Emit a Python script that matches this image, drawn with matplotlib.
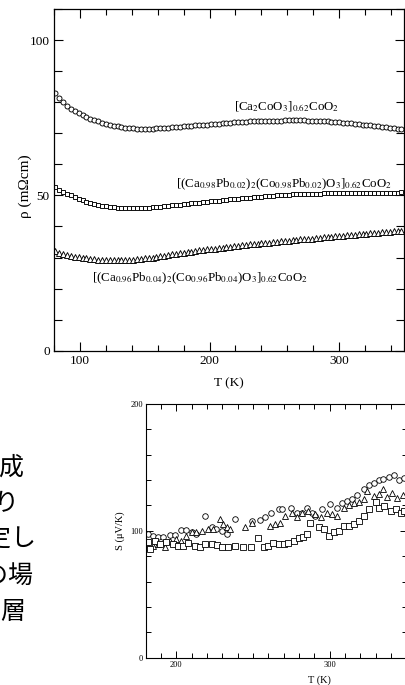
import matplotlib
matplotlib.use("Agg")
import matplotlib.pyplot as plt

plt.rcParams['font.family'] = ['Liberation Serif', 'DejaVu Serif']
plt.rcParams['mathtext.fontset'] = 'stix'

# ---------------- data: resistivity (top) ----------------
T_rho = [81, 84, 87, 90, 93, 96, 99, 102, 105, 108, 111, 114, 117, 120, 123, 126, 129, 132,
         135, 138, 141, 144, 147, 150, 153, 156, 159, 162, 165, 168, 171, 174, 177, 180,
         183, 186, 189, 192, 195, 198, 201, 204, 207, 210, 213, 216, 219, 222, 225, 228,
         231, 234, 237, 240, 243, 246, 249, 252, 255, 258, 261, 264, 267, 270, 273, 276,
         279, 282, 285, 288, 291, 294, 297, 300, 303, 306, 309, 312, 315, 318, 321, 324,
         327, 330, 333, 336, 339, 342, 345, 348]
rho_pure = [83.0, 81.2, 80.0, 78.8, 77.9, 77.1, 76.4, 75.8, 75.2, 74.7, 74.2, 73.8, 73.4, 73.0,
            72.7, 72.4, 72.2, 72.0, 71.8, 71.7, 71.6, 71.5, 71.5, 71.5, 71.5, 71.5, 71.6, 71.6,
            71.7, 71.8, 71.9, 72.0, 72.1, 72.2, 72.3, 72.4, 72.5, 72.6, 72.7, 72.8, 72.9, 73.0,
            73.1, 73.2, 73.3, 73.4, 73.5, 73.6, 73.6, 73.7, 73.8, 73.8, 73.9, 73.9, 74.0, 74.0,
            74.1, 74.1, 74.1, 74.2, 74.2, 74.2, 74.2, 74.2, 74.2, 74.1, 74.1, 74.0, 74.0, 73.9,
            73.8, 73.7, 73.6, 73.5, 73.4, 73.3, 73.2, 73.0, 72.9, 72.8, 72.6, 72.5, 72.3, 72.2,
            72.0, 71.9, 71.7, 71.6, 71.5, 71.3]
rho_pb02 = [52.6, 51.8, 51.2, 50.5, 50.0, 49.4, 48.9, 48.4, 48.0, 47.6, 47.3, 47.0, 46.7, 46.5,
            46.3, 46.1, 46.0, 45.9, 45.8, 45.8, 45.8, 45.8, 45.9, 45.9, 46.0, 46.1, 46.2, 46.4,
            46.5, 46.6, 46.8, 46.9, 47.0, 47.2, 47.3, 47.4, 47.6, 47.7, 47.8, 48.0, 48.1, 48.2,
            48.3, 48.5, 48.6, 48.7, 48.8, 48.9, 49.0, 49.1, 49.3, 49.4, 49.5, 49.6, 49.7, 49.8,
            49.9, 50.0, 50.1, 50.2, 50.2, 50.3, 50.4, 50.4, 50.5, 50.5, 50.6, 50.6, 50.6, 50.7,
            50.7, 50.7, 50.7, 50.7, 50.7, 50.7, 50.7, 50.7, 50.7, 50.7, 50.7, 50.7, 50.8, 50.8,
            50.8, 50.8, 50.9, 50.9, 50.9, 51.0]
rho_pb04 = [32.2, 31.6, 31.2, 30.9, 30.6, 30.3, 30.1, 29.9, 29.7, 29.5, 29.4, 29.3, 29.2, 29.1,
            29.1, 29.1, 29.1, 29.1, 29.2, 29.2, 29.3, 29.4, 29.5, 29.7, 29.8, 30.0, 30.2, 30.4,
            30.6, 30.8, 31.0, 31.2, 31.4, 31.6, 31.8, 31.9, 32.1, 32.3, 32.4, 32.6, 32.7, 32.9,
            33.0, 33.2, 33.3, 33.5, 33.6, 33.8, 33.9, 34.1, 34.2, 34.3, 34.5, 34.6, 34.7, 34.8,
            34.9, 35.1, 35.2, 35.3, 35.4, 35.6, 35.7, 35.8, 35.9, 36.0, 36.1, 36.3, 36.4, 36.5,
            36.6, 36.7, 36.8, 36.9, 37.0, 37.2, 37.3, 37.4, 37.5, 37.6, 37.7, 37.8, 37.9, 38.0,
            38.1, 38.2, 38.3, 38.4, 38.5, 38.6]

label_pure = r"[Ca$_2$CoO$_3$]$_{0.62}$CoO$_2$"
label_pb02 = r"[(Ca$_{0.98}$Pb$_{0.02}$)$_2$(Co$_{0.98}$Pb$_{0.02}$)O$_3$]$_{0.62}$CoO$_2$"
label_pb04 = r"[(Ca$_{0.96}$Pb$_{0.04}$)$_2$(Co$_{0.96}$Pb$_{0.04}$)O$_3$]$_{0.62}$CoO$_2$"

# ---------------- data: Seebeck (bottom) ----------------
T_S_circ = [181.4, 184.7, 188, 191, 195.6, 199, 203, 206.5, 210, 213, 218.5, 223, 226, 229.5,
            232.7, 238, 249, 254.6, 257.9, 262, 266.6, 268.8, 275, 278.6, 282, 285, 288.4,
            290.6, 295, 300.4, 304.8, 308, 311, 314.6, 318, 322, 325.5, 329, 332, 335, 338.6,
            341.9, 345, 348.5]
S_circ = [97.4, 96.0, 94.8, 94.8, 96.6, 96.6, 101.0, 100.8, 98.7, 97.4, 111.3, 102.6, 101.3,
          100.0, 97.4, 109.0, 108.0, 108.6, 110.5, 114.4, 117.0, 117.0, 118.3, 114.4, 114.4,
          118.3, 114.4, 111.8, 117.0, 121.0, 118.3, 122.0, 123.5, 124.9, 128.0, 133.0, 135.9,
          138.0, 140.0, 141.0, 142.7, 143.7, 140.0, 141.9]
T_S_tri = [181.4, 184.7, 188, 192.4, 195.6, 200, 203.3, 206.5, 210, 213, 216.4, 220.7, 224,
           228.4, 230.5, 232.7, 235, 244.8, 249, 261, 264.4, 267.7, 271, 275.3, 278.6, 282,
           286, 290.6, 294, 298, 301.5, 304.8, 309, 312.4, 315.7, 319, 322.3, 324.5, 328.8,
           332, 334.8, 337.5, 340.8, 344, 347.4]
S_tri = [86.9, 88.2, 89.5, 86.9, 92.1, 93.5, 92.1, 96.0, 98.7, 99.2, 100.0, 101.3, 101.8,
         109.0, 105.0, 102.6, 101.3, 102.6, 106.5, 104.0, 105.0, 106.5, 111.8, 114.4, 110.5,
         114.4, 115.7, 113.0, 110.5, 114.4, 113.0, 111.8, 118.3, 120.0, 121.7, 122.8, 124.9,
         131.4, 127.5, 128.8, 132.7, 127.0, 130.0, 126.0, 128.0]
T_S_sq = [181.4, 182.5, 185.8, 189, 193.4, 197.8, 201, 204.4, 207.6, 212, 215.3, 218.5, 223,
          226.2, 229.5, 233.4, 238.2, 243.7, 248.7, 253, 256.8, 260, 263.3, 266.6, 270, 273,
          276.4, 279.7, 282.3, 285, 287.3, 292.8, 296, 299.3, 302.6, 305.9, 309.2, 312.4,
          315.7, 319, 322.3, 325.5, 330, 332, 335.4, 339.7, 343, 346.3, 348.5]
S_sq = [91.4, 85.6, 92.1, 89.5, 90.8, 89.5, 88.2, 87.7, 90.3, 88.2, 86.9, 89.5, 89.5, 88.7,
        86.9, 86.9, 87.7, 86.9, 86.9, 94.0, 86.9, 88.2, 90.3, 89.5, 89.5, 90.3, 92.1, 94.0,
        94.8, 97.4, 106.0, 102.6, 101.3, 96.0, 99.2, 100.0, 103.4, 103.9, 105.2, 107.9, 111.8,
        117.0, 122.3, 118.3, 119.6, 115.7, 117.0, 114.4, 115.7]

jp_lines = ["構成", "より", "測定し", "この場", "層"]

# ---------------- figure ----------------
W, H = 405, 685
fig = plt.figure(figsize=(W / 100, H / 100), dpi=100)

def px_axes(x0, y0, x1, y1):
    return fig.add_axes([x0 / W, 1 - y1 / H, (x1 - x0) / W, (y1 - y0) / H])

# top axes (pixel box 54..404 x 9..350.7)
ax = px_axes(54, 9, 404, 350.7)
mk = dict(linestyle='none', markerfacecolor='white', markeredgecolor='black',
          markeredgewidth=0.65)
ax.plot(T_rho, rho_pure, marker='o', markersize=3.6, **mk)
ax.plot(T_rho, rho_pb02, marker='s', markersize=3.4, **mk)
ax.plot(T_rho, rho_pb04, marker='^', markersize=3.7, **mk)
ax.set_xlim(80, 350)
ax.set_ylim(0, 110)
ax.set_xticks([100, 200, 300])
ax.set_xticks(range(80, 351, 20), minor=True)
ax.set_yticks([0, 50, 100])
ax.set_yticks(range(0, 111, 10), minor=True)
ax.tick_params(which='both', direction='in', top=True, right=True, width=0.8,
               labelsize=9.5, pad=3)
ax.tick_params(which='major', length=6.5)
ax.tick_params(which='minor', length=4.5)
ax.tick_params(axis='y', which='minor', length=6)
for s in ax.spines.values():
    s.set_linewidth(0.9)
ax.set_xlabel("T (K)", fontsize=9.5)
ax.xaxis.set_label_coords(0.5, -0.078)
ax.set_ylabel("ρ (mΩcm)", fontsize=11)
ax.yaxis.set_label_coords(-0.063, 0.482)
ax.text(259.6, 78.5, label_pure, fontsize=9.3, ha='center', va='center')
ax.text(341, 53.5, label_pb02, fontsize=9.3, ha='right', va='center')
ax.text(192.2, 23.3, label_pb04, fontsize=9.3, ha='center', va='center')

# bottom axes (pixel box 145.7..406.5 x 403.8..657.8)
bx = px_axes(145.7, 403.8, 406.5, 657.8)
mk2 = dict(linestyle='none', markerfacecolor='white', markeredgecolor='black',
           markeredgewidth=0.6)
bx.plot(T_S_circ, S_circ, marker='o', markersize=4.0, **mk2)
bx.plot(T_S_tri, S_tri, marker='^', markersize=4.2, **mk2)
bx.plot(T_S_sq, S_sq, marker='s', markersize=3.8, **mk2)
bx.set_xlim(180, 350)
bx.set_ylim(0, 200)
bx.set_xticks([200, 300])
bx.set_xticks(range(180, 351, 10), minor=True)
bx.set_yticks([0, 100, 200])
bx.set_yticks(range(0, 201, 20), minor=True)
bx.tick_params(which='both', direction='in', top=True, right=True, width=0.7,
               labelsize=6, pad=2)
bx.tick_params(which='major', length=5)
bx.tick_params(which='minor', length=3.5)
for s in bx.spines.values():
    s.set_linewidth(0.8)
bx.set_xlabel("T (K)", fontsize=7.5)
bx.xaxis.set_label_coords(0.668, -0.07)
bx.set_ylabel("S (μV/K)", fontsize=7.5)
bx.yaxis.set_label_coords(-0.08, 0.5)

# clipped Japanese text on the left
jp_right = [24, 20, 36, 34, 25]
jp_y = [468, 504, 540, 576, 612]
for s, xr, yc in zip(jp_lines, jp_right, jp_y):
    fig.text(xr / W, 1 - yc / H, s, fontsize=18, ha='right', va='center',
             family=['Noto Sans CJK JP', 'DejaVu Sans'])

fig.savefig("out.png", dpi=100)
